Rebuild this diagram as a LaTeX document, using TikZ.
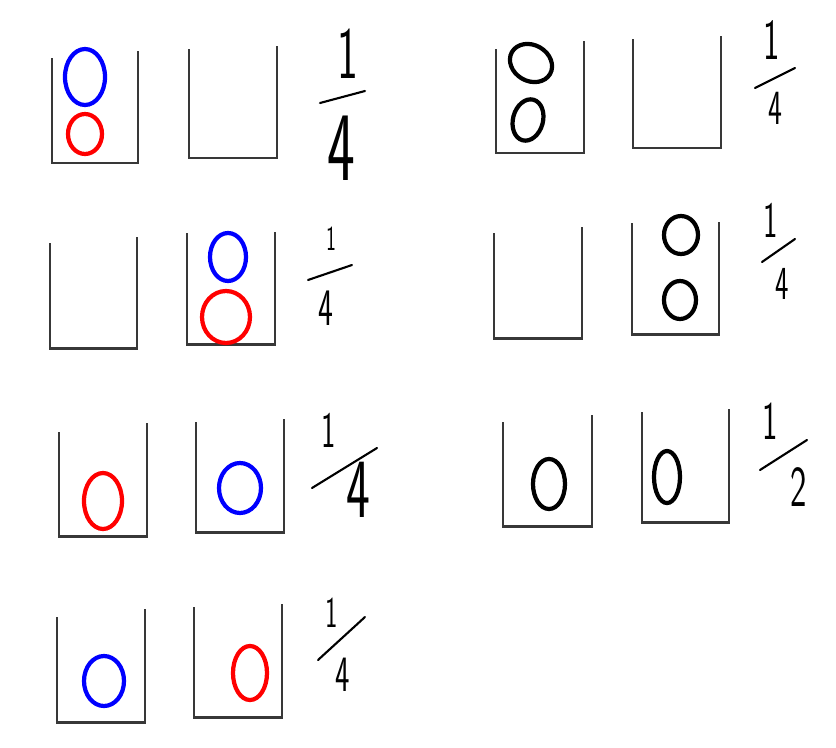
\documentclass[tikz,border=0pt]{standalone}
\usepackage{fontspec}
\newcommand\slim[1]{\scalebox{0.6}[1]{#1}}
\tikzset{
    bucket/.style={draw=black!78, line width=1.7pt},
    ball/.style={line width=2.4pt},
    digit/.style={font=\sffamily\fontsize{#1}{#1}\selectfont, inner sep=0pt},
    bar/.style={line width=1.2pt, line cap=round},
}
\begin{document}
\begin{tikzpicture}[x=0.02cm, y=-0.02cm]
    \useasboundingbox (0,0) rectangle (836,748);

    \foreach \xl/\tl/\xr/\tr/\b in {
        52/58/138/51/163, 189/49/277/46/158,
        496/49/584/41/153, 633/39/721/36/148,
        50/243/137/237/348, 187/233/275/232/344,
        494/233/582/227/338, 632/223/719/222/334,
        59/432/147/423/536, 196/422/284/419/532,
        503/422/592/415/526, 642/412/729/409/522,
        57/617/145/609/722, 194/607/282/604/717} {
        \draw[bucket] (\xl,\tl) -- (\xl,\b) -- (\xr,\b) -- (\xr,\tr);
    }

    \draw[ball, blue] (85,77)    ellipse [x radius=20, y radius=28];
    \draw[ball, red]  (85,134)   ellipse [x radius=17, y radius=20];
    \draw[ball]       (531,63)   ellipse [x radius=22, y radius=18, rotate=-30];
    \draw[ball]       (528,120)  ellipse [x radius=15, y radius=21, rotate=-15];

    \draw[ball, blue] (228,257)  ellipse [x radius=18, y radius=24];
    \draw[ball, red]  (226,317)  ellipse [x radius=24, y radius=26];
    \draw[ball]       (681,235)  ellipse [x radius=17, y radius=19];
    \draw[ball]       (680,300)  ellipse [x radius=16, y radius=19];

    \draw[ball, red]  (103,501)  ellipse [x radius=19, y radius=28];
    \draw[ball, blue] (240,488)  ellipse [x radius=21, y radius=25];
    \draw[ball]       (549,484)  ellipse [x radius=16, y radius=25];
    \draw[ball]       (667,477)  ellipse [x radius=13, y radius=26];

    \draw[ball, blue] (104,681)  ellipse [x radius=20, y radius=25];
    \draw[ball, red]  (250,673)  ellipse [x radius=17, y radius=27];

    \node[digit=42] (f1n) at (348,54)  {\slim{1}};
    \node[digit=56] (f1d) at (341,148) {\slim{4}};
    \draw[bar] (320,103) -- (365,91);

    \node[digit=33] (f2n) at (772,40)  {\slim{1}};
    \node[digit=28] (f2d) at (775,108) {\slim{4}};
    \draw[bar] (755,88) -- (795,68);

    \node[digit=20] (f3n) at (331,239) {\slim{1}};
    \node[digit=30] (f3d) at (326,308) {\slim{4}};
    \draw[bar] (308,280) -- (352,265);

    \node[digit=29] (f4n) at (771,220) {\slim{1}};
    \node[digit=27] (f4d) at (782,284) {\slim{4}};
    \draw[bar] (762,262) -- (795,239);

    \node[digit=29] (f5n) at (329,430) {\slim{1}};
    \node[digit=48] (f5d) at (358,490) {\slim{4}};
    \draw[bar] (312,488) -- (377,448);

    \node[digit=31] (f6n) at (770,421) {\slim{1}};
    \node[digit=33] (f6d) at (799,487) {\slim{2}};
    \draw[bar] (760,470) -- (807,440);

    \node[digit=25] (f7n) at (332,613) {\slim{1}};
    \node[digit=29] (f7d) at (343,675) {\slim{4}};
    \draw[bar] (318,660) -- (365,617);
\end{tikzpicture}
\end{document}
